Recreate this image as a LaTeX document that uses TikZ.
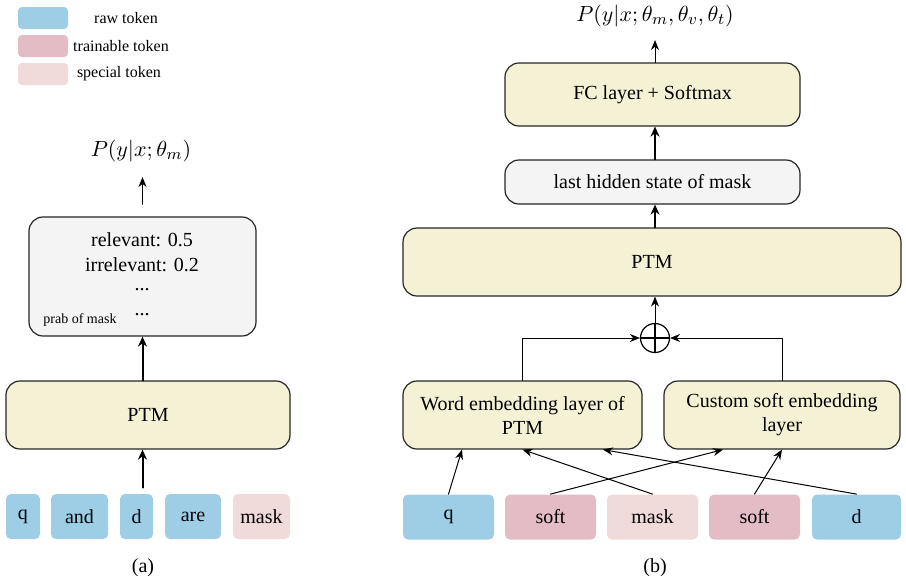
\documentclass[tikz,border=0pt]{standalone}
\usepackage{fontspec}
\setmainfont{Liberation Serif}
\usetikzlibrary{arrows.meta}

\definecolor{rawblue}{HTML}{9DCEE6}
\definecolor{trainpink}{HTML}{E3BCC6}
\definecolor{specialpink}{HTML}{F1DADA}
\definecolor{layeryellow}{HTML}{F5F1D5}
\definecolor{stategray}{HTML}{F4F4F4}

\tikzset{
  layer/.style={draw=black!85, line width=0.6pt, rounded corners=7pt, fill=layeryellow,
    align=center, inner sep=0pt, font=\fontsize{10}{12}\selectfont},
  statebox/.style={layer, fill=stategray},
  tok/.style={rounded corners=2.5pt, inner sep=0pt, minimum height=22.5pt,
    font=\fontsize{10}{12}\selectfont},
  swatch/.style={rounded corners=2pt, minimum width=25pt, minimum height=11pt, inner sep=0pt},
  legendtxt/.style={font=\fontsize{8}{9}\selectfont},
  bodytxt/.style={font=\fontsize{10}{12}\selectfont},
  prob/.style={font=\fontsize{11}{13}\selectfont},
  up/.style={-{Stealth[length=5pt,width=4pt]}, line width=0.5pt},
  thickup/.style={-{Stealth[length=5pt,width=4.5pt]}, line width=1pt},
}

\begin{document}
\begin{tikzpicture}[line cap=round, line join=round, x=0.5pt, y=-0.5pt]
  \useasboundingbox (0,0) rectangle (906,580);

  % legend
  \node[swatch, fill=rawblue] (lraw) at (43,18) {};
  \node[swatch, fill=trainpink] (ltrain) at (43,46) {};
  \node[swatch, fill=specialpink] (lspecial) at (43,74) {};
  \node[legendtxt] (traw) at (126,18) {raw token};
  \node[legendtxt] (ttrain) at (121,46) {trainable token};
  \node[legendtxt] (tspecial) at (119,74) {special token};

  % (a) prompt with mask
  \foreach \name/\x/\w/\col/\txt in {aq/23/17/rawblue/q, aand/79.5/28.5/rawblue/and,
      ad/136.5/16.5/rawblue/d, aare/193/28/rawblue/are, amask/261.5/28.5/specialpink/mask}
    \node[tok, fill=\col, minimum width=\w pt] (\name) at (\x,516.5) {\txt};
  \node[layer, minimum width=142pt, minimum height=34pt] (ptma) at (148,415) {PTM};
  \node[statebox, minimum width=113.5pt, minimum height=59.5pt] (probs) at (142.5,276.5) {};
  \node[bodytxt] (rel) at (142,240) {relevant: 0.5};
  \node[bodytxt] (irr) at (142,265) {irrelevant: 0.2};
  \node[bodytxt] (dotsa) at (142,290) {...};
  \node[bodytxt] (dotsb) at (142,315) {...};
  \node[font=\fontsize{7}{8}\selectfont] (prab) at (80,320) {prab of mask};
  \node[prob] (outa) at (141,151) {$P(y|x;\theta_m)$};
  \node[bodytxt] (capa) at (143,568) {(a)};

  \draw[thickup] ([yshift=3pt]ad.north -| probs.south) -- (ptma.south -| probs.south);
  \draw[thickup] (ptma.north -| probs.south) -- (probs.south);
  \draw[up, shorten <=6pt, shorten >=4pt] (probs.north) -- (outa.south -| probs.north);

  % (b) soft prompt with two embedding layers
  \foreach \name/\x/\w/\col/\txt in {bq/448.5/45.5/rawblue/q, bsofta/550.5/45.5/trainpink/soft,
      bmask/652.5/45.5/specialpink/mask, bsoftb/754.5/45.5/trainpink/soft, bd/856.5/44.5/rawblue/d}
    \node[tok, fill=\col, minimum width=\w pt] (\name) at (\x,517) {\txt};
  \node[layer, minimum width=119.5pt, minimum height=34pt] (word) at (522.5,415)
    {Word embedding layer of\\PTM};
  \node[layer, minimum width=118pt, minimum height=34pt] (custom) at (782,415)
    {Custom soft embedding\\layer};
  \node[circle, draw, line width=0.6pt, minimum size=14.5pt, inner sep=0pt,
    path picture={\draw[line width=0.8pt] (path picture bounding box.north) -- (path picture bounding box.south)
      (path picture bounding box.west) -- (path picture bounding box.east);}] (oplus) at (655,338) {};
  \node[layer, minimum width=249pt, minimum height=34pt] (ptmb) at (652,262) {PTM};
  \node[statebox, minimum width=147.5pt, minimum height=22pt] (hidden) at (652.5,182)
    {last hidden state of mask};
  \node[layer, minimum width=147.5pt, minimum height=31.5pt] (fc) at (652.5,94.5)
    {FC layer + Softmax};
  \node[prob] (outb) at (655,16) {$P(y|x;\theta_m,\theta_v,\theta_t)$};
  \node[bodytxt] (capb) at (655,568) {(b)};

  \draw[up] (bq.north) -- ([xshift=-30.25pt]word.south);
  \draw[up] (bmask.north) -- (word.south);
  \draw[up] (bd.north) -- ([xshift=40.25pt]word.south);
  \draw[up] (bsofta.north) -- ([xshift=-29.5pt]custom.south);
  \draw[up] (bsoftb.north) -- (custom.south);
  \draw[up] (word.north) -- (word.north |- oplus) -- (oplus.west);
  \draw[up] (custom.north) -- (custom.north |- oplus) -- (oplus.east);
  \draw[up] (oplus.north) -- (oplus.north |- ptmb.south);
  \draw[thickup] (ptmb.north -| oplus) -- (hidden.south -| oplus);
  \draw[thickup] (hidden.north -| oplus) -- (fc.south -| oplus);
  \draw[up, shorten >=3pt] (fc.north -| oplus) -- (outb.south -| oplus);
\end{tikzpicture}
\end{document}
